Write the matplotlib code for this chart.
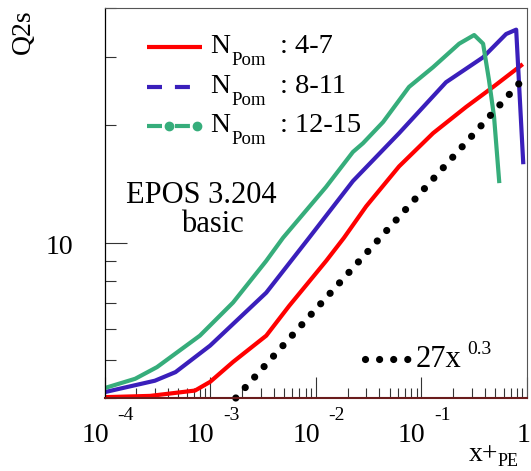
import numpy as np
import matplotlib
matplotlib.use('Agg')
import matplotlib.pyplot as plt
from matplotlib.ticker import LogLocator, NullFormatter

# N_Pom 4-7
red_x = [1e-4, 2.7e-4, 7.2e-4, 1e-3, 1.65e-3, 3.4e-3, 5.6e-3, 1.26e-2, 1.85e-2, 3.0e-2,
         6.15e-2, 0.129, 0.265, 0.478, 0.88]
red_y = [4.02, 4.05, 4.18, 4.4, 4.95, 5.78, 6.89, 9.0, 10.3, 12.4, 15.7, 19.1, 22.3, 25.1, 28.5]

# N_Pom 8-11
blue_x = [1e-4, 3.0e-4, 4.7e-4, 1e-3, 3.4e-3, 8.65e-3, 2.25e-2, 6.15e-2, 0.171, 0.384,
          0.634, 0.79, 0.92]
blue_y = [4.14, 4.43, 4.66, 5.45, 7.45, 10.3, 14.4, 19.1, 25.8, 29.9, 34.3, 35.2, 16.1]

# N_Pom 12-15
green_x = [1e-4, 1.95e-4, 3.14e-4, 8.0e-4, 1.65e-3, 3.39e-3, 4.9e-3, 1.25e-2, 2.25e-2, 2.8e-2,
           4.34e-2, 7.64e-2, 0.129, 0.228, 0.316, 0.384, 0.437, 0.488, 0.545]
green_y = [4.24, 4.48, 4.80, 5.78, 7.03, 8.98, 10.3, 13.9, 17.1, 18.0, 20.4, 25.1, 28.2,
           32.4, 34.1, 32.4, 26.1, 21.0, 14.4]

# 27 x^0.3 reference line (straight in log-log), end points
fit_x = [1.75e-3, 0.92]
fit_y = [4.0, 26.3]

xticks = [1e-4, 1e-3, 1e-2, 1e-1, 1.0]
xtick_exp = ['-4', '-3', '-2', '-1', None]
legend_labels = ['4-7', '8-11', '12-15']

RED = '#ff0000'
BLUE = '#3a1fbb'
GREEN = '#36ad7b'
FONT = 'Liberation Serif'

W, H = 531, 471
fig = plt.figure(figsize=(W / 100, H / 100), dpi=100)
ax = fig.add_axes([104.5 / W, 1 - 398 / H, (527 - 104.5) / W, (398 - 8) / H])
ax.set_xscale('log')
ax.set_yscale('log')
ax.set_xlim(1e-4, 1)
ax.set_ylim(4, 40)

lw = 3.0
ax.plot(red_x, red_y, color=RED, lw=lw, solid_joinstyle='round')
ax.plot(blue_x, blue_y, color=BLUE, lw=lw, solid_joinstyle='round')
ax.plot(green_x, green_y, color=GREEN, lw=lw, solid_joinstyle='round')
dot_style = dict(color='black', lw=5.2, linestyle=(0, (0.001, 1.95)), dash_capstyle='round')
ax.plot(fit_x, fit_y, clip_on=False, **dot_style)

# ticks
ax.xaxis.set_major_locator(LogLocator(base=10, numticks=10))
ax.xaxis.set_minor_locator(LogLocator(base=10, subs=np.arange(2, 10), numticks=20))
ax.yaxis.set_major_locator(LogLocator(base=10, numticks=10))
ax.yaxis.set_minor_locator(LogLocator(base=10, subs=np.arange(2, 10), numticks=20))
for a in (ax.xaxis, ax.yaxis):
    a.set_major_formatter(NullFormatter())
    a.set_minor_formatter(NullFormatter())
ax.tick_params(which='both', direction='in', top=False, right=False, color='#333333', width=0.8)
ax.tick_params(axis='x', which='major', length=15)
ax.tick_params(axis='x', which='minor', length=7.2)
ax.tick_params(axis='y', which='major', length=16)
ax.tick_params(axis='y', which='minor', length=8)

for s in ('top', 'right'):
    ax.spines[s].set_color('#555555')
    ax.spines[s].set_linewidth(0.8)
ax.spines['left'].set_color('black')
ax.spines['left'].set_linewidth(0.9)
ax.spines['bottom'].set_color('#6a1c1c')
ax.spines['bottom'].set_linewidth(1.5)


def ftext(px, py, s, size, **kw):
    # place text by pixel position (top-left origin)
    fig.text(px / W, 1 - py / H, s, fontsize=size, family=FONT, **kw)


def axpos(px, py):
    return (px - 104.5) / 422.5, (398 - py) / 390.0


# x tick labels, ROOT style
for xv, ex in zip(xticks, xtick_exp):
    tx = 104.5 + (np.log10(xv) + 4) * 105.6
    if ex is None:
        ftext(tx - 3, 442, '1', 20, ha='center', va='baseline')
    else:
        ftext(tx - 9.5, 442, '10', 20, ha='center', va='baseline')
        ftext(tx + 13, 420, ex, 14, ha='left', va='baseline')

# y tick label
ftext(73, 254, '10', 20, ha='right', va='baseline')

# axis titles
ftext(23, 9, 'Q2s', 20, ha='center', va='top', rotation=90)
ftext(498, 461, 'x+', 20, ha='right', va='baseline')
ftext(498, 466, 'PE', 13, ha='left', va='baseline')

# legend
leg_y = [47, 87, 126]
styles = [dict(color=RED, lw=lw, linestyle='-'),
          dict(color=BLUE, lw=lw, linestyle=(0, (3.6, 3.1))),
          dict(color=GREEN, lw=lw, linestyle=(0, (3.6, 3.1)))]
for ly, st, lab in zip(leg_y, styles, legend_labels):
    x0, y0 = axpos(147, ly)
    x1, _ = axpos(202, ly)
    ax.plot([x0, x1], [y0, y0], transform=ax.transAxes, solid_capstyle='butt',
            dash_capstyle='butt', **st)
    ftext(210, ly + 6, 'N', 20, ha='left', va='baseline')
    ftext(231, ly + 18, 'Pom', 13.5, ha='left', va='baseline')
    ftext(280, ly + 6, ': ' + lab, 20.5, ha='left', va='baseline')
# dots on the green legend sample
for dpx in (168.5, 197):
    gx, gy = axpos(dpx, leg_y[2])
    ax.plot([gx], [gy], 'o', color=GREEN, ms=6, transform=ax.transAxes)

# fit legend
fx0, fy0 = axpos(365, 359)
fx1, _ = axpos(408, 359)
ax.plot([fx0, fx1], [fy0, fy0], transform=ax.transAxes, **dot_style)
ftext(416, 367, '27x', 22, ha='left', va='baseline')
ftext(467, 354, '0.3', 14, ha='left', va='baseline')

# model label
ftext(201, 203, 'EPOS 3.204', 22, ha='center', va='baseline')
ftext(212, 232, 'basic', 22, ha='center', va='baseline')

fig.savefig('out.png', dpi=100)
